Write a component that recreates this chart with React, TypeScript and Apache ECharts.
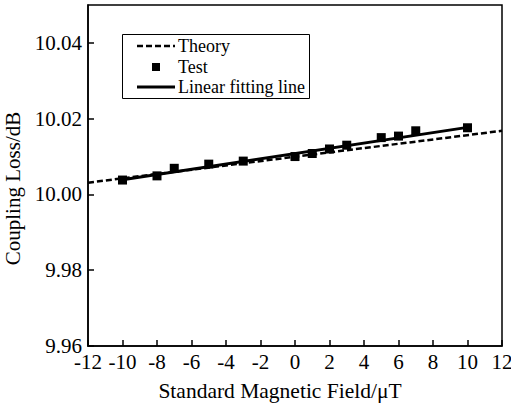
import React, { useEffect, useRef } from "react";
import * as echarts from "echarts";

const testX = [-10, -8, -7, -5, -3, 0, 1, 2, 3, 5, 6, 7, 10];
const testY = [10.0038, 10.0049, 10.0069, 10.008, 10.0088, 10.01, 10.0108, 10.012, 10.013, 10.015, 10.0154, 10.0168, 10.0176];
const theoryLine = [[-12, 10.0031], [12, 10.0168]];
const fitLine = [[-10, 10.0039], [10, 10.0177]];
const legendLabels = ["Theory", "Test", "Linear fitting line"];

const FONT = "'Liberation Serif', 'Times New Roman', serif";

export default function App() {
  const ref = useRef<HTMLDivElement>(null);
  useEffect(() => {
    if (!ref.current) return;
    const chart = echarts.init(ref.current, null, { renderer: "svg" });
    const lx = 122, ly = 34;
    chart.setOption({
      animation: false,
      backgroundColor: "#fff",
      grid: {
        left: 88, right: 9, top: 5, bottom: 57,
        outerBoundsMode: "none", containLabel: false,
        show: true, borderColor: "#000", borderWidth: 1.5, backgroundColor: "transparent",
      },
      xAxis: {
        type: "value", min: -12, max: 12, interval: 2,
        axisLine: { show: true, onZero: false, lineStyle: { color: "#000", width: 1.5 } },
        axisTick: { show: true, inside: true, length: 6, lineStyle: { color: "#000", width: 1.5 } },
        axisLabel: { color: "#000", fontFamily: FONT, fontSize: 21, margin: 5 },
        splitLine: { show: false },
        name: "Standard Magnetic Field/\u03bcT",
        nameLocation: "middle", nameGap: 34,
        nameTextStyle: { color: "#000", fontFamily: FONT, fontSize: 21.5, padding: [0, 30, 0, 0] },
      },
      yAxis: {
        type: "value", min: 9.96, max: 10.05, interval: 0.02,
        axisLine: { show: true, onZero: false, lineStyle: { color: "#000", width: 1.5 } },
        axisTick: { show: true, inside: true, length: 6, lineStyle: { color: "#000", width: 1.5 } },
        axisLabel: {
          color: "#000", fontFamily: FONT, fontSize: 21, margin: 6, showMaxLabel: false,
          formatter: (v: number) => v.toFixed(2),
        },
        splitLine: { show: false },
        name: "Coupling Loss/dB",
        nameLocation: "middle", nameGap: 62,
        nameTextStyle: { color: "#000", fontFamily: FONT, fontSize: 21, padding: [0, 26, 0, 0] },
      },
      series: [
        {
          name: legendLabels[0], type: "line", data: theoryLine, symbol: "none",
          lineStyle: { color: "#000", width: 2.5, type: [6, 3] }, z: 2,
        },
        {
          name: legendLabels[2], type: "line", data: fitLine, symbol: "none",
          lineStyle: { color: "#000", width: 3 }, z: 3,
        },
        {
          name: legendLabels[1], type: "scatter", data: testX.map((x, i) => [x, testY[i]]),
          symbol: "rect", symbolSize: 9, itemStyle: { color: "#000", opacity: 1 }, z: 4,
        },
      ],
      graphic: [
        {
          type: "rect", left: lx, top: ly, shape: { width: 187, height: 64 },
          style: { fill: "#fff", stroke: "#000", lineWidth: 1 }, z: 10,
        },
        {
          type: "line", shape: { x1: lx + 15, y1: ly + 12, x2: lx + 53, y2: ly + 12 },
          style: { stroke: "#000", lineWidth: 2.5, lineDash: [6, 3] }, z: 11,
        },
        {
          type: "rect", shape: { x: lx + 30, y: ly + 29, width: 8, height: 8 },
          style: { fill: "#000" }, z: 11,
        },
        {
          type: "line", shape: { x1: lx + 15, y1: ly + 53, x2: lx + 53, y2: ly + 53 },
          style: { stroke: "#000", lineWidth: 3 }, z: 11,
        },
        ...legendLabels.map((t, i) => ({
          type: "text", x: lx + 56, y: ly + [12, 33, 53][i], z: 11,
          style: { text: t, fill: "#000", font: `18px ${FONT}`, verticalAlign: "middle" },
        })),
      ],
    });
    return () => chart.dispose();
  }, []);
  return <div ref={ref} style={{ position: "fixed", left: 0, top: 0, width: 511, height: 403 }} />;
}
